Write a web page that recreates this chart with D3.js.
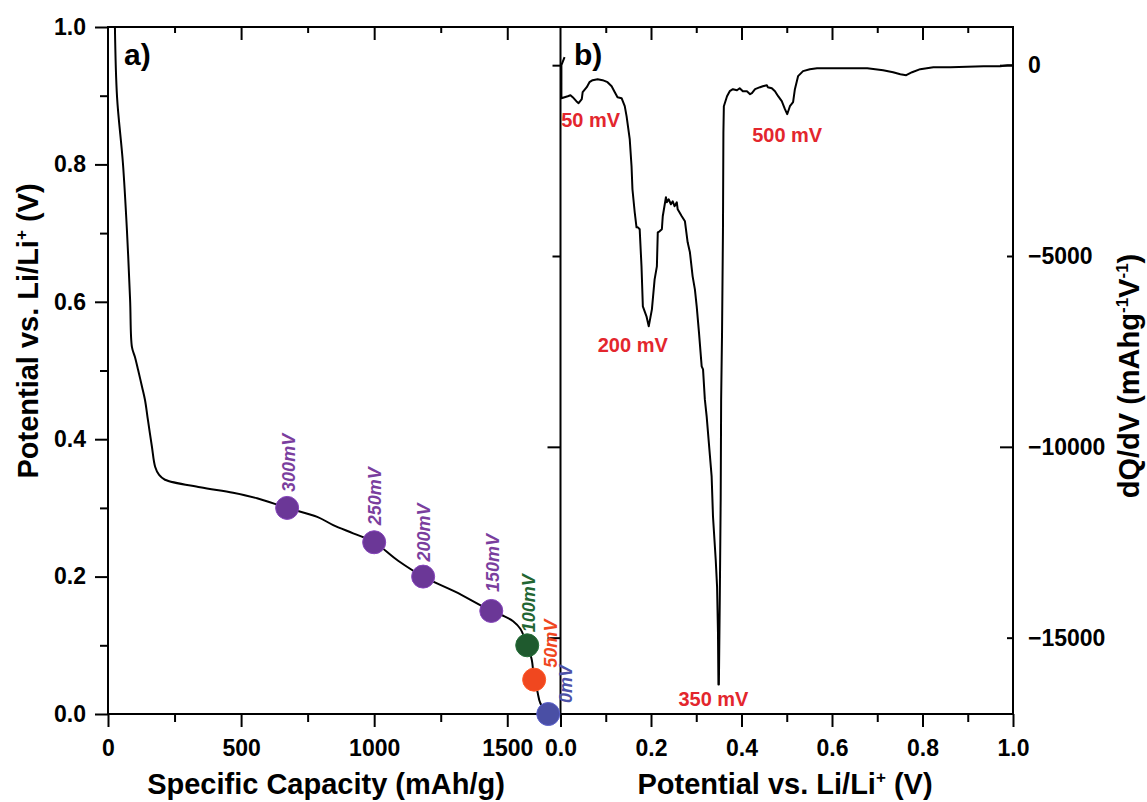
<!DOCTYPE html>
<html>
<head>
<meta charset="utf-8">
<script src="https://cdn.jsdelivr.net/npm/d3@7"></script>
<style>
  body { margin: 0; background: #fff; }
  svg { display: block; font-family: "Liberation Sans", Arial, Helvetica, sans-serif; }
  .axis text { font-size: 23px; font-weight: bold; fill: #000; }
  .axis line { stroke: #000; stroke-width: 2; }
  .axis path { display: none; }
</style>
</head>
<body>
<svg id="chart" width="1147" height="802"></svg>
<script>
// ---- Panel a: first discharge profile ----
const capacity = [26, 34, 56, 71, 83, 90, 101, 113, 128, 139, 150, 165, 177, 192, 214, 346, 470, 560,
  673, 786, 846, 921, 1000, 1090, 1184, 1304, 1440, 1485, 1522, 1549, 1567, 1575, 1592, 1601, 1613,
  1624, 1650, 1661];
const potential = [1.0, 0.898, 0.802, 0.705, 0.603, 0.534, 0.520, 0.501, 0.476, 0.457, 0.428, 0.389,
  0.360, 0.348, 0.341, 0.330, 0.322, 0.314, 0.300, 0.287, 0.275, 0.263, 0.250, 0.223, 0.200, 0.178,
  0.150, 0.143, 0.135, 0.124, 0.108, 0.100, 0.079, 0.050, 0.033, 0.016, 0.002, 0.001];

// Sampling points along the discharge
const markerLabels = ["300mV", "250mV", "200mV", "150mV", "100mV", "50mV", "0mV"];
const markerPotential = [0.30, 0.25, 0.20, 0.15, 0.10, 0.05, 0.00];
const markerCapacity = [673, 1000, 1184, 1440, 1575, 1601, 1654];

// ---- Panel b: differential capacity ----
const dqdvPotential = [0.009, 0.002, 0.002, 0.009, 0.016, 0.022, 0.027, 0.035, 0.040, 0.047, 0.049,
  0.058, 0.064, 0.071, 0.082, 0.093, 0.104, 0.113, 0.120, 0.126, 0.135, 0.142, 0.146, 0.153, 0.157,
  0.159, 0.164, 0.168, 0.171, 0.175, 0.179, 0.182, 0.190, 0.195, 0.202, 0.208, 0.213, 0.215, 0.219,
  0.224, 0.226, 0.233, 0.235, 0.239, 0.244, 0.248, 0.252, 0.257, 0.259, 0.268, 0.275, 0.281, 0.286,
  0.292, 0.297, 0.301, 0.306, 0.312, 0.315, 0.319, 0.323, 0.334, 0.337, 0.343, 0.346, 0.348, 0.349,
  0.350, 0.352, 0.354, 0.355, 0.357, 0.359, 0.360, 0.361, 0.368, 0.374, 0.381, 0.390, 0.396, 0.403,
  0.412, 0.419, 0.423, 0.430, 0.441, 0.447, 0.456, 0.458, 0.467, 0.474, 0.481, 0.489, 0.496, 0.501,
  0.507, 0.514, 0.518, 0.525, 0.536, 0.551, 0.567, 0.602, 0.640, 0.678, 0.713, 0.735, 0.751, 0.764,
  0.777, 0.795, 0.824, 0.862, 0.935, 0.972, 0.988, 1.0];
const dqdv = [210, 0, -865, -839, -813, -787, -839, -944, -996, -891, -708,
  -577, -446, -393, -367, -393, -446, -551, -708, -839, -865, -1075, -1337, -1940, -2648,
  -3251, -3854, -4248, -4248, -4300, -5270, -6319, -6581, -6843, -6398, -5611, -5270, -4379, -4353,
  -4300, -3959, -3461, -3592, -3513, -3645, -3566, -3697, -3592, -3776, -3959, -4090, -4641, -4903,
  -5532, -5873, -6319, -7001, -7892, -7971, -8757, -9203, -10776, -11825, -12953, -13661, -14867, -16230,
  -16230, -14001, -11379, -8757, -7001, -4379, -1757, -1075, -813, -682, -629, -656, -603, -682,
  -682, -760, -734, -629, -577, -551, -524, -577, -603, -682, -813, -944, -1154, -1285,
  -1075, -970, -629, -288, -157, -105, -79, -79, -79, -79, -131, -184, -236, -262,
  -184, -105, -52, -52, -26, -26, 0, 0];

const peakLabels = ["50 mV", "200 mV", "350 mV", "500 mV"];
const peakPotential = [0.05, 0.20, 0.35, 0.50];

// Tick values
const capTicks = [0, 500, 1000, 1500];
const capMinor = [250, 750, 1250];
const potTicks = [0, 0.2, 0.4, 0.6, 0.8, 1.0];
const potMinor = [0.1, 0.3, 0.5, 0.7, 0.9];
const dqdvTicks = [0, -5000, -10000, -15000];

// ---- Layout ----
const svg = d3.select("#chart");
const plotTop = 27, plotBottom = 714;
const aLeft = 108, aRight = 560.5, bLeft = 560.5, bRight = 1013;

const xA = d3.scaleLinear().domain([0, 1700]).range([aLeft, aRight]);
const yA = d3.scaleLinear().domain([0, 1.0]).range([plotBottom, plotTop]);
const xB = d3.scaleLinear().domain([0, 1.0]).range([bLeft, bRight]);
const yB = d3.scaleLinear().domain([-17000, 1000]).range([plotBottom, plotTop]);

const markerColors = ["#6b3797", "#6b3797", "#6b3797", "#6b3797", "#1f5a2e", "#f0471f", "#4a4fa5"];
const labelColors = ["#7a3e9e", "#7a3e9e", "#7a3e9e", "#7a3e9e", "#226633", "#f0471f", "#4d52a8"];
const peakRed = "#e3262d";

// clip regions
const defs = svg.append("defs");
defs.append("clipPath").attr("id", "clipA").append("rect")
  .attr("x", aLeft).attr("y", plotTop).attr("width", aRight - aLeft).attr("height", plotBottom - plotTop);
defs.append("clipPath").attr("id", "clipB").append("rect")
  .attr("x", bLeft).attr("y", plotTop).attr("width", bRight - bLeft).attr("height", plotBottom - plotTop);

// helper to draw one tick set
function ticks(axis, tx, ty) {
  return svg.append("g").attr("class", "axis")
    .attr("transform", `translate(${tx},${ty})`).call(axis);
}

// Panel a axes
ticks(d3.axisLeft(yA).tickValues(potTicks).tickSize(13).tickPadding(9).tickFormat(d3.format(".1f")), aLeft, 0);
ticks(d3.axisLeft(yA).tickValues(potMinor).tickSize(8).tickFormat(""), aLeft, 0);
ticks(d3.axisBottom(xA).tickValues(capTicks).tickSize(13).tickPadding(13).tickFormat(d3.format("d")), 0, plotBottom);
ticks(d3.axisBottom(xA).tickValues(capMinor).tickSize(8).tickFormat(""), 0, plotBottom);
ticks(d3.axisTop(xA).tickValues(capTicks.slice(1)).tickSize(-13).tickFormat(""), 0, plotTop);
ticks(d3.axisTop(xA).tickValues(capMinor).tickSize(-6).tickFormat(""), 0, plotTop);

// Panel b axes
const bMajorX = [0, 0.2, 0.4, 0.6, 0.8, 1.0], bMinorX = [0.1, 0.3, 0.5, 0.7, 0.9];
ticks(d3.axisBottom(xB).tickValues(bMajorX).tickSize(13).tickPadding(13).tickFormat(d3.format(".1f")), 0, plotBottom);
ticks(d3.axisBottom(xB).tickValues(bMinorX).tickSize(8).tickFormat(""), 0, plotBottom);
ticks(d3.axisTop(xB).tickValues(bMajorX.slice(1, 5)).tickSize(-13).tickFormat(""), 0, plotTop);
ticks(d3.axisTop(xB).tickValues(bMinorX).tickSize(-6).tickFormat(""), 0, plotTop);

const rightAxis = ticks(d3.axisRight(yB).tickValues(dqdvTicks).tickSizeInner(-13).tickPadding(15)
  .tickFormat(d3.format("d")), bRight, 0);
rightAxis.selectAll(".tick line").attr("x2", d => (d % 10000 === 0 ? -13 : -6));
rightAxis.selectAll(".tick text").attr("text-anchor", "start");

const leftB = ticks(d3.axisLeft(yB).tickValues(dqdvTicks).tickSize(13).tickFormat(""), bLeft, 0);
leftB.selectAll(".tick line").attr("x2", d => (d >= -5000 ? -8 : -13));

// frames
svg.append("rect").attr("x", aLeft).attr("y", plotTop).attr("width", bRight - aLeft).attr("height", plotBottom - plotTop)
  .attr("fill", "none").attr("stroke", "#000").attr("stroke-width", 2);
svg.append("line").attr("x1", aRight).attr("x2", aRight).attr("y1", plotTop).attr("y2", plotBottom)
  .attr("stroke", "#000").attr("stroke-width", 2);

// Panel a curve
svg.append("path").datum(d3.zip(capacity, potential))
  .attr("clip-path", "url(#clipA)")
  .attr("d", d3.line().x(d => xA(d[0])).y(d => yA(d[1])).curve(d3.curveCatmullRom.alpha(0.5)))
  .attr("fill", "none").attr("stroke", "#000").attr("stroke-width", 2);

// markers
const mk = svg.append("g");
markerLabels.forEach((lab, i) => {
  mk.append("circle")
    .attr("cx", xA(markerCapacity[i])).attr("cy", yA(markerPotential[i])).attr("r", 11.5)
    .attr("fill", markerColors[i]).attr("stroke", d3.color(markerColors[i]).brighter(0.6)).attr("stroke-width", 1);
});
// label offsets (baseline shift right, gap above marker)
const labelShift = [[8, 16], [7, 17], [7, 15], [8, 19], [8, 13], [23, 12], [24, 11]];
markerLabels.forEach((lab, i) => {
  const x = xA(markerCapacity[i]) + labelShift[i][0];
  const y = yA(markerPotential[i]) - labelShift[i][1];
  mk.append("text").attr("transform", `translate(${x},${y}) rotate(-90)`)
    .attr("font-size", 18).attr("font-weight", "bold").attr("font-style", "italic")
    .attr("fill", labelColors[i]).text(lab);
});

// Panel b curve
svg.append("path").datum(d3.zip(dqdvPotential, dqdv))
  .attr("clip-path", "url(#clipB)")
  .attr("d", d3.line().x(d => xB(d[0])).y(d => yB(d[1])))
  .attr("fill", "none").attr("stroke", "#000").attr("stroke-width", 2).attr("stroke-linejoin", "round");

// peak labels placed under the local minimum of each peak
const peakOffset = [[12, 24], [-16, 26], [-5, 21], [0, 28]];
peakLabels.forEach((lab, i) => {
  let best = null;
  dqdvPotential.forEach((v, j) => {
    if (Math.abs(v - peakPotential[i]) <= 0.03 && (best === null || dqdv[j] < dqdv[best])) best = j;
  });
  svg.append("text")
    .attr("x", xB(dqdvPotential[best]) + peakOffset[i][0])
    .attr("y", yB(dqdv[best]) + peakOffset[i][1])
    .attr("text-anchor", "middle").attr("font-size", 20).attr("font-weight", "bold")
    .attr("fill", peakRed).text(lab);
});

// panel letters
svg.append("text").attr("x", 124).attr("y", 65).attr("font-size", 30).attr("font-weight", "bold").text("a)");
svg.append("text").attr("x", 574).attr("y", 65).attr("font-size", 30).attr("font-weight", "bold").text("b)");

// axis titles
const title = (x, y, rot) => svg.append("text")
  .attr("transform", `translate(${x},${y})` + (rot ? " rotate(-90)" : ""))
  .attr("text-anchor", "middle").attr("font-size", 29).attr("font-weight", "bold");

title(326, 794).text("Specific Capacity (mAh/g)");

const tb = title(785, 794);
tb.append("tspan").text("Potential vs. Li/Li");
tb.append("tspan").attr("font-size", 17).attr("dy", -11).text("+");
tb.append("tspan").attr("dy", 11).text(" (V)");

const ta = title(38, 331, true);
ta.append("tspan").text("Potential vs. Li/Li");
ta.append("tspan").attr("font-size", 17).attr("dy", -11).text("+");
ta.append("tspan").attr("dy", 11).text(" (V)");

const tr = title(1139, 376, true);
tr.append("tspan").text("dQ/dV (mAhg");
tr.append("tspan").attr("font-size", 17).attr("dy", -11).text("-1");
tr.append("tspan").attr("dy", 11).text("V");
tr.append("tspan").attr("font-size", 17).attr("dy", -11).text("-1");
tr.append("tspan").attr("dy", 11).text(")");
</script>
</body>
</html>
